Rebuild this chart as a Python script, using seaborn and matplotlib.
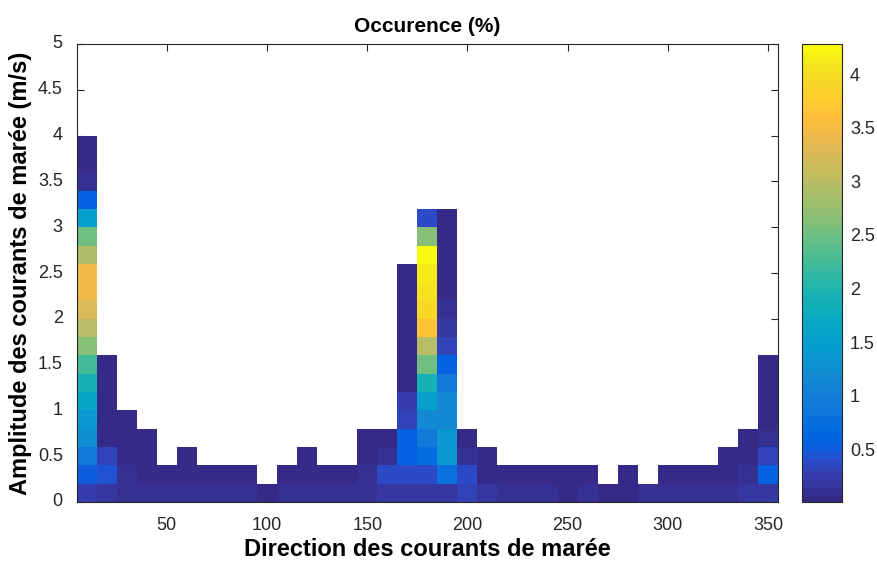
import numpy as np
import pandas as pd
import matplotlib
matplotlib.use("Agg")
import matplotlib.pyplot as plt
import seaborn as sns
from matplotlib.colors import ListedColormap

# ---------------- data ----------------
directions = [10, 20, 30, 40, 50, 60, 70, 80, 90, 100, 110, 120, 130, 140, 150, 160, 170, 180,
              190, 200, 210, 220, 230, 240, 250, 260, 270, 280, 290, 300, 310, 320, 330, 340, 350]
amp_centers = [0.1, 0.3, 0.5, 0.7, 0.9, 1.1, 1.3, 1.5, 1.7, 1.9, 2.1, 2.3, 2.5, 2.7, 2.9,
               3.1, 3.3, 3.5, 3.7, 3.9, 4.1, 4.3, 4.5, 4.7, 4.9]
amp_bin = 0.2

# occurrence (%) per direction, from the lowest amplitude bin upward
occurrence = [
    [0.22, 0.50, 0.88, 1.22, 1.36, 1.63, 1.90, 2.24, 2.65, 2.99, 3.23, 3.43, 3.43, 2.92, 2.51, 1.49, 0.61, 0.10, 0.03, 0.03],  # 10
    [0.17, 0.43, 0.28, 0.03, 0.03, 0.03, 0.03, 0.03],  # 20
    [0.13, 0.11, 0.03, 0.03, 0.03],                    # 30
    [0.10, 0.03, 0.03, 0.03],                          # 40
    [0.10, 0.03],                                      # 50
    [0.10, 0.03, 0.03],                                # 60
    [0.10, 0.03],                                      # 70
    [0.10, 0.03],                                      # 80
    [0.10, 0.03],                                      # 90
    [0.02],                                            # 100
    [0.10, 0.03],                                      # 110
    [0.10, 0.03, 0.03],                                # 120
    [0.10, 0.03],                                      # 130
    [0.10, 0.03],                                      # 140
    [0.12, 0.10, 0.03, 0.03],                          # 150
    [0.16, 0.37, 0.13, 0.03],                          # 160
    [0.16, 0.37, 0.56, 0.61, 0.28, 0.22, 0.03, 0.03, 0.03, 0.03, 0.03, 0.03, 0.03],  # 170
    [0.16, 0.40, 0.71, 0.88, 1.15, 1.49, 1.90, 2.51, 2.99, 3.63, 3.90, 4.07, 4.14, 4.28, 2.65, 0.37],  # 180
    [0.16, 0.75, 1.36, 1.36, 1.15, 1.15, 0.88, 0.61, 0.34, 0.17, 0.10, 0.03, 0.03, 0.03, 0.03, 0.03],  # 190
    [0.28, 0.37, 0.10, 0.03],                          # 200
    [0.15, 0.03, 0.03],                                # 210
    [0.11, 0.03],                                      # 220
    [0.11, 0.03],                                      # 230
    [0.11, 0.03],                                      # 240
    [0.02, 0.03],                                      # 250
    [0.09, 0.03],                                      # 260
    [0.01],                                            # 270
    [0.01, 0.03],                                      # 280
    [0.11],                                            # 290
    [0.11, 0.03],                                      # 300
    [0.11, 0.03],                                      # 310
    [0.13, 0.03],                                      # 320
    [0.13, 0.03, 0.03],                                # 330
    [0.17, 0.10, 0.03, 0.03],                          # 340
    [0.18, 0.61, 0.28, 0.09, 0.03, 0.03, 0.03, 0.03],  # 350
]

x_ticks = [50, 100, 150, 200, 250, 300, 350]
y_ticks = [0, 0.5, 1, 1.5, 2, 2.5, 3, 3.5, 4, 4.5, 5]
y_ticklabels = ["0", "0.5", "1", "1.5", "2", "2.5", "3", "3.5", "4", "4.5", "5"]
cbar_ticks = [0.5, 1, 1.5, 2, 2.5, 3, 3.5, 4]
cbar_ticklabels = ["0.5", "1", "1.5", "2", "2.5", "3", "3.5", "4"]

# ---------------- parula colormap ----------------
parula_rgb = [
    (0.2081, 0.1663, 0.5292), (0.2116, 0.1898, 0.5777), (0.2123, 0.2138, 0.6270), (0.2081, 0.2386, 0.6771),
    (0.1959, 0.2645, 0.7279), (0.1707, 0.2919, 0.7792), (0.1253, 0.3242, 0.8303), (0.0591, 0.3598, 0.8683),
    (0.0117, 0.3875, 0.8820), (0.0060, 0.4086, 0.8828), (0.0165, 0.4266, 0.8786), (0.0329, 0.4430, 0.8720),
    (0.0498, 0.4586, 0.8641), (0.0629, 0.4737, 0.8554), (0.0723, 0.4887, 0.8467), (0.0779, 0.5040, 0.8384),
    (0.0793, 0.5200, 0.8312), (0.0749, 0.5375, 0.8263), (0.0641, 0.5570, 0.8240), (0.0488, 0.5772, 0.8228),
    (0.0343, 0.5966, 0.8199), (0.0265, 0.6137, 0.8135), (0.0239, 0.6287, 0.8038), (0.0231, 0.6418, 0.7913),
    (0.0228, 0.6535, 0.7768), (0.0267, 0.6642, 0.7607), (0.0384, 0.6743, 0.7436), (0.0590, 0.6838, 0.7254),
    (0.0843, 0.6928, 0.7062), (0.1133, 0.7015, 0.6859), (0.1453, 0.7098, 0.6646), (0.1801, 0.7177, 0.6424),
    (0.2178, 0.7250, 0.6193), (0.2586, 0.7317, 0.5954), (0.3022, 0.7376, 0.5712), (0.3482, 0.7424, 0.5473),
    (0.3953, 0.7459, 0.5244), (0.4420, 0.7481, 0.5033), (0.4871, 0.7491, 0.4840), (0.5300, 0.7491, 0.4661),
    (0.5709, 0.7485, 0.4494), (0.6099, 0.7473, 0.4337), (0.6473, 0.7456, 0.4188), (0.6834, 0.7435, 0.4044),
    (0.7184, 0.7411, 0.3905), (0.7525, 0.7384, 0.3768), (0.7858, 0.7356, 0.3633), (0.8185, 0.7327, 0.3498),
    (0.8507, 0.7299, 0.3360), (0.8824, 0.7274, 0.3217), (0.9139, 0.7258, 0.3063), (0.9450, 0.7261, 0.2886),
    (0.9739, 0.7314, 0.2666), (0.9938, 0.7455, 0.2403), (0.9990, 0.7653, 0.2164), (0.9955, 0.7861, 0.1967),
    (0.9880, 0.8066, 0.1794), (0.9789, 0.8271, 0.1633), (0.9697, 0.8481, 0.1475), (0.9626, 0.8705, 0.1309),
    (0.9589, 0.8949, 0.1132), (0.9598, 0.9218, 0.0948), (0.9661, 0.9514, 0.0755), (0.9763, 0.9831, 0.0538),
]
parula = ListedColormap(parula_rgb, name="parula")

# ---------------- build table ----------------
grid = np.full((len(amp_centers), len(directions)), np.nan)
for j, col in enumerate(occurrence):
    grid[:len(col), j] = col
df = pd.DataFrame(grid, index=amp_centers, columns=directions)
vmin = np.nanmin(grid)
vmax = np.nanmax(grid)

# ---------------- figure ----------------
sns.set_style("white")
plt.rcParams["font.family"] = ["Liberation Sans", "DejaVu Sans"]
dark = "#262626"

fig = plt.figure(figsize=(8.77, 5.63), dpi=100)
ax = fig.add_axes([76.7 / 877, 1 - 502 / 563, (778 - 76.7) / 877, (502 - 44) / 563])
cax = fig.add_axes([802.3 / 877, 1 - 502 / 563, 40 / 877, (502 - 44) / 563])

sns.heatmap(df, ax=ax, cbar_ax=cax, cmap=parula, vmin=vmin, vmax=vmax,
            mask=df.isna(), linewidths=0)

# orient amplitude upward
ax.set_ylim(0, len(amp_centers))
ax.set_xlim(0, len(directions))

step = directions[1] - directions[0]
x_first_edge = directions[0] - step / 2
ax.set_xticks([(t - x_first_edge) / step for t in x_ticks])
ax.set_xticklabels([str(t) for t in x_ticks], rotation=0)
ax.set_yticks([t / amp_bin for t in y_ticks])
ax.set_yticklabels(y_ticklabels, rotation=0)

for s in ax.spines.values():
    s.set_visible(True)
    s.set_color(dark)
    s.set_linewidth(0.8)

ax.tick_params(axis="both", direction="in", length=5, width=0.8, color=dark,
               labelcolor=dark, labelsize=13, top=True, right=True,
               bottom=True, left=True)
ax.tick_params(axis="x", pad=10.5)
ax.tick_params(axis="y", pad=10)

ax.set_xlabel("Direction des courants de marée", fontsize=17, fontweight="bold",
              color="black", labelpad=3)
ax.set_ylabel("Amplitude des courants de marée (m/s)", fontsize=17, fontweight="bold",
              color="black", labelpad=4)
ax.set_title("Occurence (%)", fontsize=15, fontweight="bold", color="black", pad=8.5)

cbar = ax.collections[0].colorbar
cbar.set_ticks(cbar_ticks)
cbar.set_ticklabels(cbar_ticklabels)
cbar.outline.set_visible(True)
cbar.outline.set_edgecolor(dark)
cbar.outline.set_linewidth(0.8)
cax.tick_params(direction="in", length=5, width=0.8, color=dark, labelcolor=dark,
                labelsize=13, right=True, left=False, pad=5.5)

fig.savefig("out.png", dpi=100)
